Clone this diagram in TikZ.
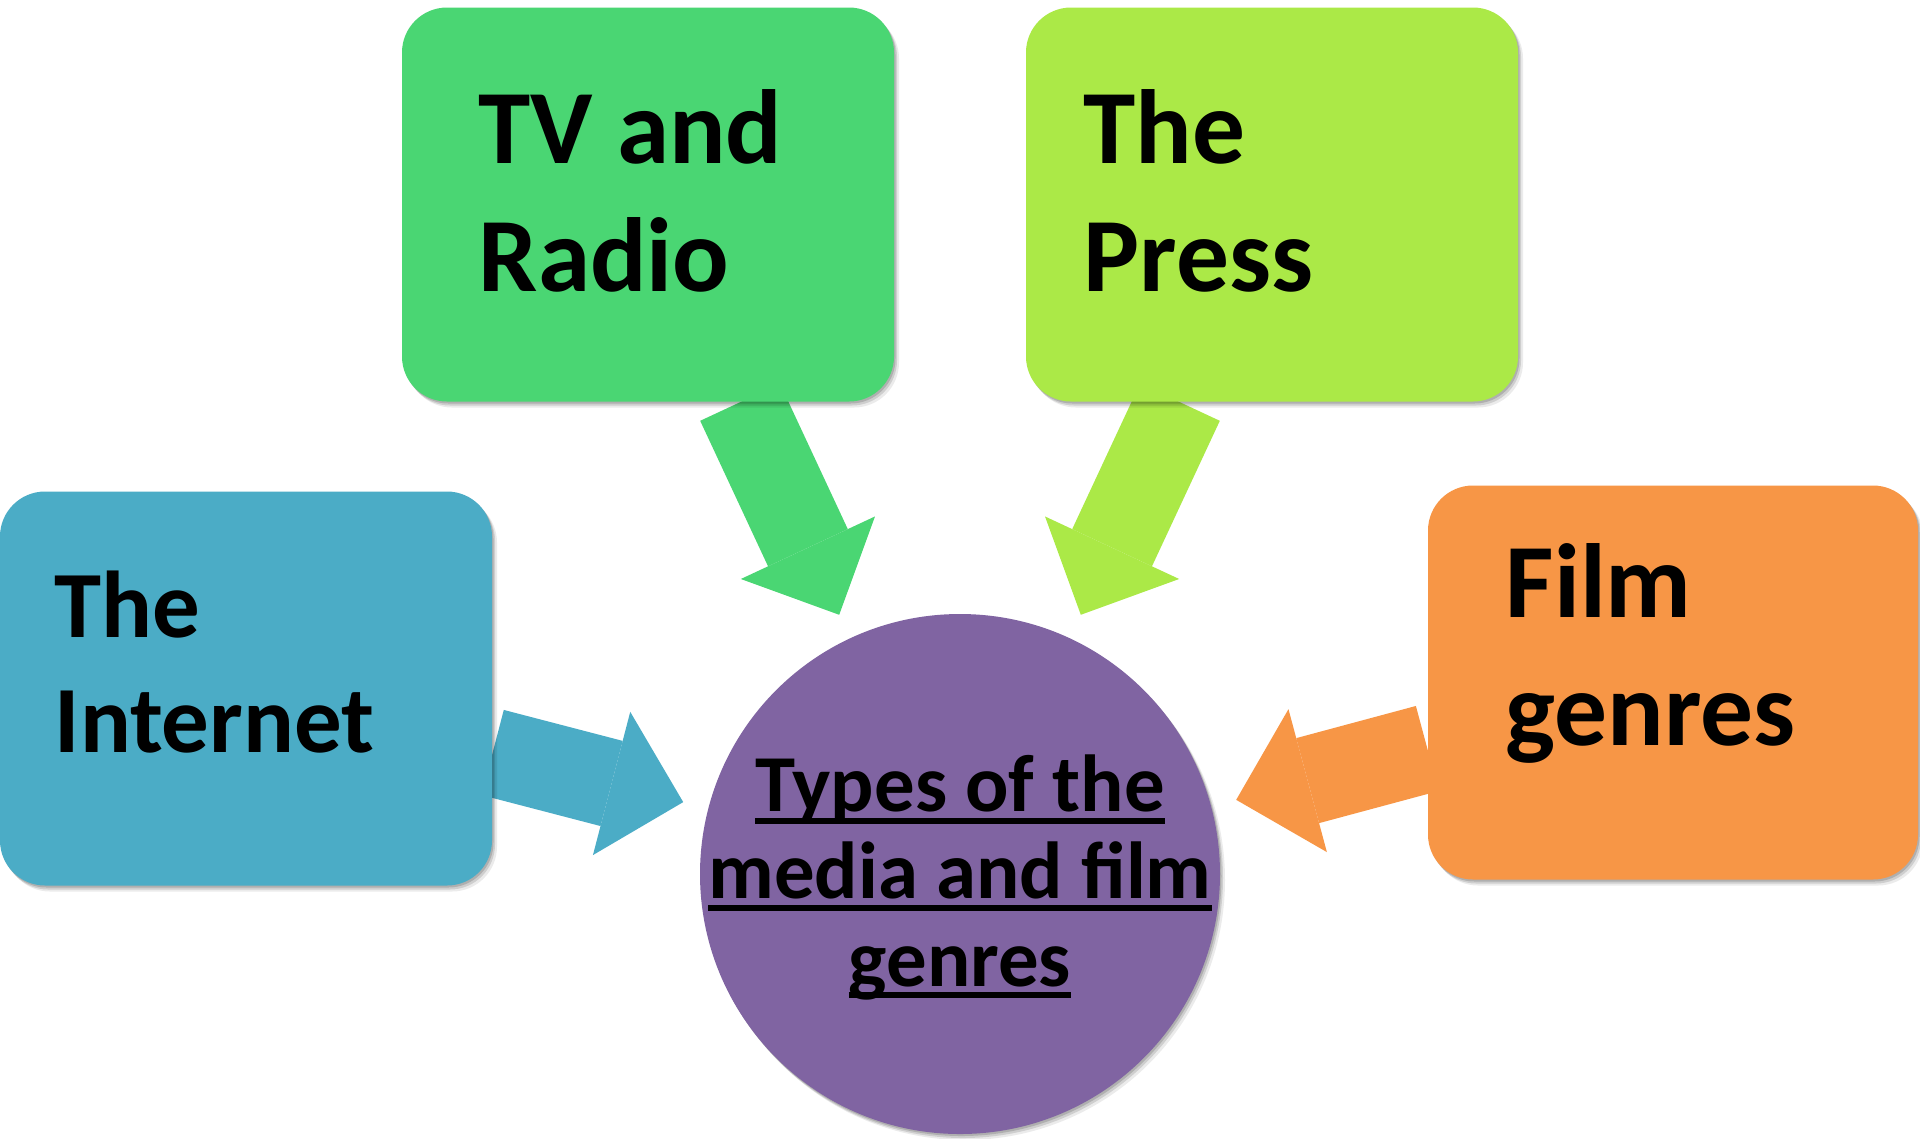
\documentclass[tikz,border=0pt]{standalone}
\usepackage{fontspec}
\setmainfont{Carlito}
\usetikzlibrary{arrows.meta,calc,shadows}

\definecolor{tvgreen}{HTML}{4AD673}
\definecolor{presslime}{HTML}{ABE947}
\definecolor{netblue}{HTML}{4BACC6}
\definecolor{filmorange}{HTML}{F79646}
\definecolor{hubpurple}{HTML}{8064A2}

% underline at a fixed depth, through the descenders
\newsavebox{\hubbox}
\newcommand{\hubline}[1]{\sbox{\hubbox}{#1}\rlap{\rule[-3.4pt]{\wd\hubbox}{1.7pt}}\usebox{\hubbox}}

\pgfdeclarelayer{back}
\pgfsetlayers{back,main}

\begin{document}
\begin{tikzpicture}[x=0.1mm,y=-0.1mm,
    softshadow/.style={general shadow={shadow xshift=0.5mm,shadow yshift=-0.6mm,fill=black,opacity=0.08},
      general shadow={shadow xshift=0.3mm,shadow yshift=-0.4mm,fill=black,opacity=0.12},
      general shadow={shadow xshift=0.15mm,shadow yshift=-0.2mm,fill=black,opacity=0.15}},
    card/.style={rounded corners=4.5mm,minimum width=49.2mm,minimum height=39.4mm,inner sep=0pt,softshadow},
    cardtext/.style={anchor=base west,inner sep=0pt,align=left,font=\fontsize{30}{36.4}\selectfont\bfseries},
    feed/.style={line width=8.8mm,draw=#1,-{Triangle[width=14.8mm,length=7.4mm,line width=0pt]}}]
  \begin{pgfonlayer}{back}
    \fill[white] (0,0) rectangle (1920,1138);
  \end{pgfonlayer}
  \useasboundingbox (0,0) rectangle (1920,1138);

  % the four sources
  \node[card,fill=tvgreen] (tv) at (648,204.5){};
  \node[card,fill=presslime] (press) at (1272,204.5){};
  \node[card,fill=netblue] (net) at (246,688.5){};
  \node[card,fill=filmorange,minimum width=49mm] (film) at (1673,682.5){};

  % labels sit on the baseline of their last line
  \node[cardtext] (tvlbl) at (478,291){TV and\\Radio};
  \node[cardtext] (presslbl) at (1083,291){The\\Press};
  \node[cardtext,font=\fontsize{27}{32.7}\selectfont\bfseries] (netlbl) at (54,752){The\\Internet};
  \node[cardtext] (filmlbl) at (1505,745){Film\\genres};

  % the hub
  \node[circle,fill=hubpurple,minimum size=52mm,inner sep=0pt,softshadow] (hub) at (960,874){};
  \node[anchor=base,inner sep=0pt,align=center,font=\fontsize{23}{24.8}\selectfont\bfseries]
        (hublbl) at (960,986){\hubline{Types of the}\\\hubline{media and film}\\\hubline{genres}};

  \begin{pgfonlayer}{back}
    \draw[feed=tvgreen] (tv) -- ($(hub)!2.86cm!(tv)$);
    \draw[feed=presslime] (press) -- ($(hub)!2.86cm!(press)$);
    \draw[feed=netblue] (net) -- ($(hub)!2.86cm!(net)$);
    \draw[feed=filmorange] (film) -- ($(hub)!2.86cm!(film)$);
  \end{pgfonlayer}
\end{tikzpicture}
\end{document}
